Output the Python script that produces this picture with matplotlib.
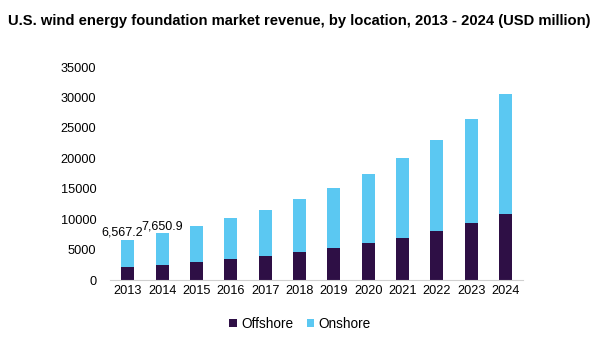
import numpy as np
from matplotlib import pyplot as plt

plt.rcParams['font.family'] = ['Liberation Sans', 'DejaVu Sans']

years = ['2013', '2014', '2015', '2016', '2017', '2018', '2019', '2020', '2021', '2022', '2023', '2024']
totals = np.array([6567.2, 7650.9, 8870, 10200, 11500, 13300, 15100, 17400, 20000, 23000, 26400, 30500])
offshore = np.array([2100, 2500, 3000, 3400, 3900, 4600, 5250, 6100, 6900, 8000, 9400, 10800])
onshore = totals - offshore
labels = {0: '6,567.2', 1: '7,650.9'}

fig = plt.figure(figsize=(6.05, 3.39), dpi=100)
ax = fig.add_axes([0.182, 0.174, 0.682, 0.628])

x = np.arange(len(years))
ax.bar(x, offshore, width=0.38, color='#2E0F45', label='Offshore')
ax.bar(x, onshore, width=0.38, bottom=offshore, color='#5BC8F2', label='Onshore')

for i, txt in labels.items():
    ax.annotate(txt, (x[i], totals[i]), xytext=(-4 if i == 0 else 0, 1), textcoords='offset points',
                ha='center', va='bottom', fontsize=9)

ax.set_xlim(-0.52, 11.5)
ax.set_ylim(0, 35000)
ax.set_yticks(range(0, 35001, 5000))
ax.set_xticks(x)
ax.set_xticklabels(years)
ax.tick_params(length=0, labelsize=9.2)
ax.tick_params(axis='y', pad=10)
for s in ['top', 'right', 'left']:
    ax.spines[s].set_visible(False)
ax.spines['bottom'].set_color('#d0d0d0')

fig.text(0.013, 0.925, 'U.S. wind energy foundation market revenue, by location, 2013 - 2024 (USD million)',
         fontsize=10.6, fontweight='bold')
ax.legend(loc='upper center', bbox_to_anchor=(0.46, -0.115), ncol=2, frameon=False, fontsize=9.8,
          handlelength=0.55, handleheight=0.55, handletextpad=0.3, columnspacing=1.0)

fig.savefig('out.png', dpi=100)
